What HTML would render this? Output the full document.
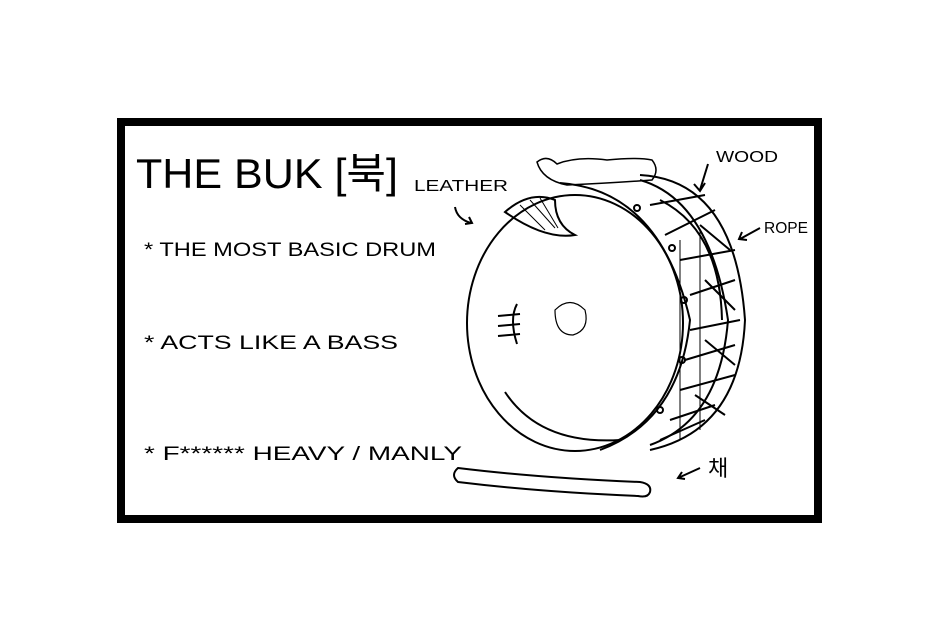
<!DOCTYPE html>
<html><head><meta charset="utf-8"><style>
html,body{margin:0;padding:0;background:#fff;}
body{width:940px;height:633px;position:relative;overflow:hidden;}
</style></head><body>
<svg width="940" height="633" viewBox="0 0 940 633" xmlns="http://www.w3.org/2000/svg" style="position:absolute;left:0;top:0">
<rect x="121" y="122" width="697" height="397" fill="none" stroke="#000" stroke-width="8"/>
<g font-family="Liberation Sans, 'Noto Sans CJK KR', sans-serif" fill="#000">
<text x="136" y="188" font-size="42" textLength="262" lengthAdjust="spacingAndGlyphs">THE BUK [북]</text>
<text x="144" y="256" font-size="19" textLength="292" lengthAdjust="spacingAndGlyphs">* THE MOST BASIC DRUM</text>
<text x="144" y="349" font-size="19" textLength="254" lengthAdjust="spacingAndGlyphs">* ACTS LIKE A BASS</text>
<text x="144" y="460" font-size="19" textLength="318" lengthAdjust="spacingAndGlyphs">* F****** HEAVY / MANLY</text>
<text x="414" y="191" font-size="16" textLength="94" lengthAdjust="spacingAndGlyphs">LEATHER</text>
<text x="716" y="162" font-size="16" textLength="62" lengthAdjust="spacingAndGlyphs">WOOD</text>
<text x="764" y="233" font-size="16" textLength="44" lengthAdjust="spacingAndGlyphs">ROPE</text>
<text x="708" y="476" font-size="22">채</text>
</g>
<g fill="none" stroke="#000" stroke-width="2">
<!-- arrows -->
<path d="M455 207 q2 12 16 16 M465 224 l7 -1 l-3 -6"/>
<path d="M708 164 l-8 26 M694 184 l6 7 l5 -8"/>
<path d="M760 228 l-20 11 M742 232 l-3 7 l8 1"/>
<path d="M700 468 l-22 10 M682 472 l-4 6 l7 1"/>
<!-- back shell -->
<path d="M640 175 Q735 180 745 320 Q740 430 650 450"/>
<path d="M640 180 Q710 200 728 320 Q720 420 650 445"/>
<path d="M660 200 Q720 230 722 320"/>
<!-- rim -->
<path d="M560 183 Q660 190 690 320 Q680 420 600 450"/>
<!-- face -->
<ellipse cx="575" cy="323" rx="108" ry="128"/>
<!-- ropes -->
<path d="M650 205 l55 -10 M665 235 l50 -25 M680 260 l55 -10 M690 295 l45 -15 M690 330 l50 -10 M685 360 l50 -15 M680 390 l55 -15 M670 420 l45 -15 M660 440 l45 -20"/>
<path d="M700 225 l30 25 M705 280 l30 30 M705 340 l30 25 M695 395 l30 20"/>
<path d="M680 240 l0 200 M700 230 l0 200" stroke-width="1"/>
<!-- top rope knot -->
<path d="M537 162 q10 -8 20 2 q20 -8 50 -4 q30 -3 45 0 q8 10 0 20 q-40 3 -85 5 q-25 -5 -30 -23 z" stroke-width="1.5"/>
<!-- leather patch -->
<path d="M505 212 Q530 190 555 200 Q555 225 575 235 Q545 240 505 212 Z"/>
<!-- hatching -->
<path d="M520 205 l25 25 M530 200 l25 28 M540 198 l18 30" stroke-width="1"/>
<path d="M555 310 q15 -15 30 0 q5 20 -12 25 q-18 0 -18 -25z" stroke-width="1.2"/>
<path d="M517 304 q-8 15 0 40 M498 316 l22 -2 M498 326 l22 -2 M498 336 l22 -2"/>
<path d="M505 392 Q540 445 620 440"/>
<!-- stick -->
<path d="M458 468 Q540 478 640 482 q12 2 10 10 q-2 6 -12 4 Q540 492 458 482 q-8 -7 0 -14 z"/>
<!-- rivets -->
<circle cx="637" cy="208" r="3"/><circle cx="672" cy="248" r="3"/><circle cx="684" cy="300" r="3"/><circle cx="682" cy="360" r="3"/><circle cx="660" cy="410" r="3"/>
</g>
</svg>
</body></html>
